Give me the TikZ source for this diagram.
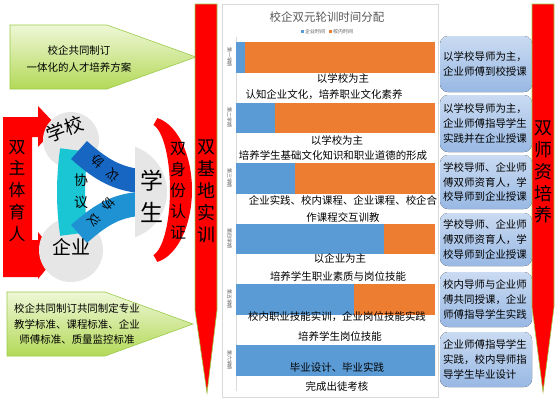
\documentclass[tikz,border=0pt]{standalone}
\usepackage{fontspec}
\setmainfont{Noto Sans CJK SC}
\definecolor{grnT}{HTML}{EEF7D6}
\definecolor{grnB}{HTML}{B3D958}
\definecolor{grnE}{HTML}{9BCB4A}
\definecolor{bluT}{HTML}{CADBF2}
\definecolor{bluB}{HTML}{98B8E3}
\definecolor{cbar}{HTML}{5B9BD5}
\definecolor{obar}{HTML}{ED7D31}
\definecolor{gtxt}{HTML}{595959}
\definecolor{gline}{HTML}{D9D9D9}
\definecolor{circ}{HTML}{E7E6E6}
\definecolor{bandC}{HTML}{1BC6D4}
\definecolor{bandD}{HTML}{1767C2}
\definecolor{bandL}{HTML}{1F92D4}
\definecolor{redA}{HTML}{FF0000}
\tikzset{
  greenbox/.style={draw=grnE, line width=0.6bp, top color=grnT, bottom color=grnB},
  bluebox/.style={rounded corners=8bp, top color=bluT, bottom color=bluB, draw=none},
  redarrow/.style={fill=redA, draw=grnE, line width=0.6bp},
  txt/.style={inner sep=0pt, align=center, font=\fontsize{10.5}{16}\selectfont},
  btxt/.style={inner sep=0pt, align=left, anchor=west, font=\fontsize{10.5}{15}\selectfont},
  vtxt/.style={inner sep=0pt, align=center},
  rowlab/.style={inner sep=0pt, rotate=-90, text=gtxt, font=\fontsize{5}{6}\selectfont},
  bandtxt/.style={inner sep=0pt, font=\fontsize{12.5}{13}\selectfont},
}
\begin{document}
\begin{tikzpicture}[x=1bp,y=-1bp]
\useasboundingbox (0,0) rectangle (560,400);
\fill[white] (0,0) rectangle (560,400);

% green pentagons
\draw[greenbox] (10,25) -- (107,25) -- (196,57) -- (107,89) -- (10,89) -- cycle;
\node[txt, font=\fontsize{10.5}{18}\selectfont] (g1) at (79,59) {校企共同制订\\一体化的人才培养方案};
\draw[greenbox] (7,292) -- (105,292) -- (193,324) -- (105,356) -- (7,356) -- cycle;
\node[txt] (g2) at (77,324) {校企共同制订共同制定专业\\教学标准、课程标准、企业\\师傅标准、质量监控标准};

% left bracket arrow
\fill[redA] (3,117) -- (38,117) -- (38,106) -- (57,126) -- (38,147) -- (38,137) -- (32,137)
  -- (32,240) -- (38,240) -- (38,232) -- (57,256) -- (38,279) -- (38,277) -- (3,277) -- cycle;
\node[vtxt, font=\fontsize{17}{22}\selectfont] (dzt) at (17,191) {双\\主\\体\\育\\人};

% crescent
\fill[redA] plot[domain=-80:80, samples=40] ({150+42*cos(\x)},{190-73*sin(\x)})
  -- plot[domain=80:-80, samples=40] ({150+20*cos(\x)},{190-66*sin(\x)}) -- cycle;
\node[vtxt, font=\fontsize{16}{21}\selectfont] (sfrz) at (178,191) {双\\身\\份\\认\\证};

% grey circles
\fill[circ] (71,140) circle (28);
\fill[circ] (71,250) circle (32);

% bands
\draw[bandC, line width=28bp] (74,150) .. controls (70,180) and (70,205) .. (74,234);
\draw[bandD, line width=24bp] (79,150) .. controls (98,167) and (114,178) .. (139,181);
\draw[bandL, line width=24bp] (79,234) .. controls (98,217) and (114,206) .. (139,204);

% student D
\begin{scope}
\clip (135,140) rectangle (200,245);
\fill[circ] (119,192) circle (48);
\end{scope}

\node[inner sep=0pt, rotate=20, font=\fontsize{19}{19}\selectfont] (xx) at (65,129) {学校};
\node[inner sep=0pt, font=\fontsize{19}{19}\selectfont] (qy) at (71,247) {企业};
\node[vtxt, font=\fontsize{23}{32}\selectfont] (xs) at (152,196) {学\\生};
\node[vtxt, font=\fontsize{14}{22}\selectfont] (xy1) at (81,191) {协\\议};
\node[bandtxt, rotate=135] (xy2a) at (98,161) {协};
\node[bandtxt, rotate=135] (xy2b) at (113,175) {议};
\node[bandtxt, rotate=-135] (xy3a) at (108,204) {协};
\node[bandtxt, rotate=-135] (xy3b) at (94,220) {议};

% chart
\draw[gline, line width=0.6bp] (222,4) rectangle (438,397);
\node[inner sep=0pt, text=gtxt, font=\fontsize{11.5}{12}\selectfont] (title) at (327,17) {校企双元轮训时间分配};
\fill[cbar] (301,30) rectangle (304,33);
\node[inner sep=0pt, anchor=west, text=gtxt, font=\fontsize{5}{6}\selectfont] (lg1) at (305,31.5) {企业时间};
\fill[obar] (329,30) rectangle (332,33);
\node[inner sep=0pt, anchor=west, text=gtxt, font=\fontsize{5}{6}\selectfont] (lg2) at (333,31.5) {校内时间};
\draw[gline, line width=0.6bp] (236,37) -- (236,391);
\foreach \y/\b/\t [count=\i] in {42/245/第一学期, 102.5/275/第二学期, 163/295/第三学期, 223.5/384/第四学期, 284/354/第五学期, 345/435/第六学期} {
  \fill[cbar] (236,\y) rectangle (\b,\y+30.5);
  \fill[obar] (\b,\y) rectangle (435,\y+30.5);
  \node[rowlab] (r\i) at (229.5,\y+15) {\t};
}
\node[txt] (t1a) at (343,79) {以学校为主};
\node[txt] (t1b) at (324,95) {认知企业文化，培养职业文化素养};
\node[txt] (t2a) at (337,141) {以学校为主};
\node[txt] (t2b) at (333,156) {培养学生基础文化知识和职业道德的形成};
\node[txt] (t3a) at (343,200) {企业实践、校内课程、企业课程、校企合};
\node[txt] (t3b) at (343,217) {作课程交互训教};
\node[txt] (t4a) at (340,258) {以企业为主};
\node[txt] (t4b) at (338,276) {培养学生职业素质与岗位技能};
\node[txt] (t5a) at (337,317) {校内职业技能实训，企业岗位技能实践};
\node[txt] (t5b) at (340,336) {培养学生岗位技能};
\node[txt] (t6a) at (337,367) {毕业设计、毕业实践};
\node[txt] (t6b) at (337,387) {完成出徒考核};

% right blue boxes
\fill[bluebox] (440,36) rectangle (532,92);
\node[btxt] (b1) at (443,64) {以学校导师为主，\\企业师傅到校授课};
\fill[bluebox] (440,95) rectangle (532,152);
\node[btxt] (b2) at (443,123.5) {以学校导师为主，\\企业师傅指导学生\\实践并在企业授课};
\fill[bluebox] (440,155) rectangle (532,209);
\node[btxt] (b3) at (443,182) {学校导师、企业师\\傅双师资育人，学\\校导师到企业授课};
\fill[bluebox] (440,213) rectangle (532,266);
\node[btxt] (b4) at (443,239.5) {学校导师、企业师\\傅双师资育人，学\\校导师到企业授课};
\fill[bluebox] (440,272) rectangle (532,327);
\node[btxt] (b5) at (443,299.5) {校内导师与企业师\\傅共同授课，企业\\师傅指导学生实践};
\fill[bluebox] (440,332) rectangle (532,387);
\node[btxt] (b6) at (443,359.5) {企业师傅指导学生\\实践，校内导师指\\导学生毕业设计};

% red vertical arrows
\draw[redarrow] (195,4) -- (217,4) -- (217,310) -- (207,393) -- (195,310) -- cycle;
\node[vtxt, font=\fontsize{18}{22}\selectfont] (jd) at (206,191) {双\\基\\地\\实\\训};
\draw[redarrow] (532,4) -- (554,4) -- (554,307) -- (543,392) -- (532,307) -- cycle;
\node[vtxt, font=\fontsize{18}{22}\selectfont] (sz) at (543,172) {双\\师\\资\\培\\养};
\end{tikzpicture}
\end{document}
